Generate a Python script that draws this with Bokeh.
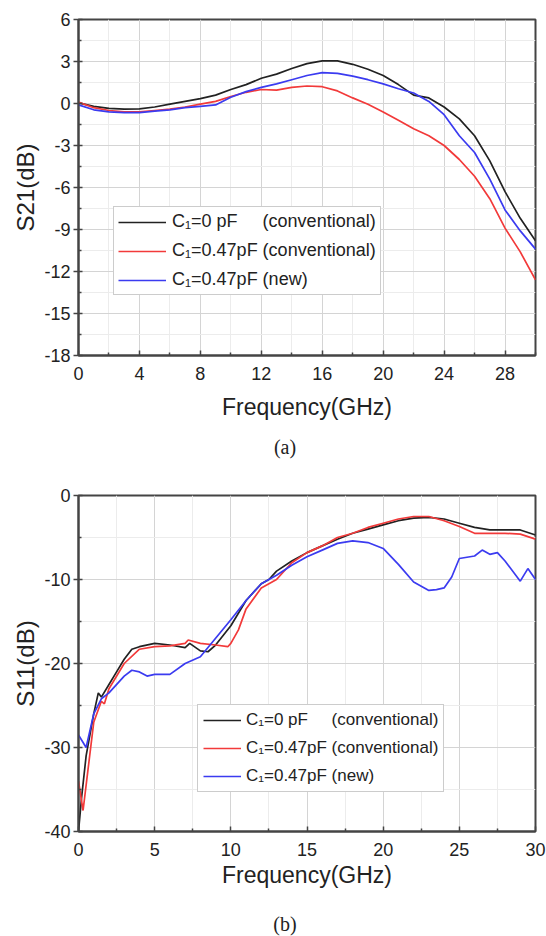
from bokeh.plotting import figure
from bokeh.layouts import column
from bokeh.models import FixedTicker, Legend, LegendItem, Range1d, Div
from bokeh.embed import file_html
from bokeh.resources import INLINE

# ---------------- data: (a) S21 ----------------
freq_a = list(range(31))
s21_c0_conv = [0.05, -0.2, -0.35, -0.4, -0.38, -0.25, -0.05, 0.15, 0.35, 0.6,
               1.0, 1.35, 1.8, 2.1, 2.5, 2.85, 3.05, 3.05, 2.8, 2.45,
               2.0, 1.35, 0.6, 0.4, -0.25, -1.1, -2.3, -4.1, -6.3, -8.2, -9.8]
s21_c047_conv = [0.1, -0.3, -0.5, -0.6, -0.6, -0.5, -0.4, -0.25, -0.05, 0.15,
                 0.5, 0.8, 1.0, 0.95, 1.15, 1.25, 1.2, 0.9, 0.4, -0.05,
                 -0.6, -1.2, -1.8, -2.3, -3.0, -4.0, -5.2, -6.8, -8.9, -10.6, -12.6]
s21_c047_new = [-0.1, -0.45, -0.6, -0.65, -0.65, -0.55, -0.45, -0.3, -0.2, -0.1,
                0.45, 0.85, 1.15, 1.4, 1.7, 2.0, 2.2, 2.15, 1.95, 1.7,
                1.4, 1.05, 0.75, 0.15, -0.8, -2.3, -3.5, -5.4, -7.6, -9.1, -10.4]

# ---------------- data: (b) S11 ----------------
f_b_c0 = [0, 0.2, 0.5, 1.0, 1.3, 1.5, 2, 2.5, 3, 3.5, 4, 5, 6, 7, 7.3, 8, 8.5, 9, 10,
          11, 12, 12.5, 13, 14, 15, 16, 17, 18, 19, 20, 21, 22, 23, 24, 25, 26, 27, 28, 29, 30]
s11_c0_conv = [-40, -36, -31, -26, -23.5, -24, -22.5, -21, -19.5, -18.3, -18, -17.6, -17.8,
               -18.1, -17.6, -18.5, -18.6, -17.8, -15.5, -12.5, -10.5, -10, -9, -7.8, -6.8,
               -6, -5.2, -4.5, -4, -3.5, -3, -2.7, -2.6, -2.8, -3.3, -3.8, -4.1, -4.1, -4.1, -4.7]
f_b_c047 = [0, 0.3, 0.6, 1, 1.5, 1.7, 2, 3, 4, 5, 6, 7, 7.2, 8, 9, 9.8, 10, 10.5, 11,
            12, 13, 14, 15, 16, 17, 18, 19, 20, 21, 22, 23, 24, 25, 26, 27, 28, 29, 30]
s11_c047_conv = [-34, -37.5, -33, -27, -24.5, -24.8, -23, -20, -18.3, -18, -17.9, -17.6, -17.2,
                 -17.6, -17.8, -18, -17.6, -16, -13.5, -11, -10, -8, -6.8, -6, -5, -4.5, -3.8,
                 -3.3, -2.8, -2.5, -2.5, -3, -3.7, -4.5, -4.5, -4.5, -4.6, -5.2]
f_b_new = [0, 0.5, 1, 1.5, 2, 3, 3.5, 4, 4.5, 5, 6, 7, 8, 9, 10, 11, 12, 13, 14, 15, 16,
           17, 18, 19, 20, 21, 22, 23, 23.5, 24, 24.5, 25, 26, 26.5, 27, 27.5, 28, 29, 29.5, 30]
s11_c047_new = [-28.5, -30, -26, -24.2, -23.5, -21.5, -20.8, -21, -21.5, -21.3, -21.3, -20,
                -19.2, -17, -14.8, -12.5, -10.5, -9.5, -8.3, -7.3, -6.5, -5.7, -5.4, -5.6,
                -6.3, -8.2, -10.3, -11.3, -11.2, -11, -9.7, -7.5, -7.2, -6.5, -7, -6.8, -7.8,
                -10.2, -8.7, -10]

# ---------------- ticks ----------------
xticks_a = [0, 4, 8, 12, 16, 20, 24, 28]
xminor_a = [2, 6, 10, 14, 18, 22, 26, 30]
yticks_a = [-18, -15, -12, -9, -6, -3, 0, 3, 6]
yminor_a = [-16.5, -13.5, -10.5, -7.5, -4.5, -1.5, 1.5, 4.5]
xticks_b = [0, 5, 10, 15, 20, 25, 30]
xminor_b = [2.5, 7.5, 12.5, 17.5, 22.5, 27.5]
yticks_b = [-40, -30, -20, -10, 0]
yminor_b = [-35, -25, -15, -5]

labels = ["C\u2081=0 pF" + "\u00a0" * 5 + "(conventional)",
          "C\u2081=0.47pF (conventional)",
          "C\u2081=0.47pF (new)"]
colors = ["#222222", "#f23a3a", "#3b3bf0"]

FONT = "Liberation Sans"


def make_fig(h, xr, yr, xt, xm, yt, ym, ylabel, border, xlabel_standoff):
    p = figure(width=546, height=h, x_range=Range1d(*xr), y_range=Range1d(*yr),
               output_backend="svg", toolbar_location=None,
               min_border_left=border[0], min_border_right=border[1],
               min_border_top=border[2], min_border_bottom=border[3])
    p.background_fill_color = "white"
    p.border_fill_color = "white"
    p.outline_line_color = "#444444"
    p.outline_line_width = 2
    p.xaxis.ticker = FixedTicker(ticks=xt, minor_ticks=xm)
    p.yaxis.ticker = FixedTicker(ticks=yt, minor_ticks=ym)
    p.xaxis.major_label_overrides = {v: str(v) for v in xt}
    p.yaxis.major_label_overrides = {v: str(v) for v in yt}
    for ax in (p.xaxis, p.yaxis):
        ax.axis_line_color = "#444444"
        ax.axis_line_width = 2
        ax.major_tick_line_color = "#444444"
        ax.minor_tick_line_color = "#444444"
        ax.major_tick_line_width = 1.5
        ax.minor_tick_line_width = 1.5
        ax.major_label_text_font = FONT
        ax.major_label_text_font_size = "18px"
        ax.major_label_text_color = "#222222"
        ax.axis_label_text_font = FONT
        ax.axis_label_text_font_style = "normal"
        ax.axis_label_text_color = "#222222"
    p.xaxis.axis_label_text_font_size = "23px"
    p.yaxis.axis_label_text_font_size = "24px"
    p.xaxis.major_tick_in = 5
    p.xaxis.major_tick_out = 0
    p.xaxis.minor_tick_in = 3
    p.xaxis.minor_tick_out = 0
    p.yaxis.major_tick_in = 4
    p.yaxis.major_tick_out = 5
    p.yaxis.minor_tick_in = 3
    p.yaxis.minor_tick_out = 0
    p.xaxis.major_label_standoff = 11
    p.yaxis.major_label_standoff = 3
    p.xaxis.axis_label = "Frequency(GHz)"
    p.xaxis.axis_label_standoff = xlabel_standoff
    p.yaxis.axis_label = ylabel
    p.yaxis.axis_label_standoff = 2
    for g in (p.xgrid, p.ygrid):
        g.grid_line_color = "#d4d4d4"
        g.grid_line_width = 1
        g.minor_grid_line_color = "#ececec"
        g.minor_grid_line_width = 1
    return p


def caption(text, h, lh):
    return Div(text=text, width=546, height=h, margin=0,
               styles={"text-align": "center", "font-family": "Liberation Serif",
                       "font-size": "20px", "line-height": f"{lh}px",
                       "text-indent": "24px",
                       "color": "#222222", "width": "546px"})


pa = make_fig(432, (0, 30), (-18, 6), xticks_a, xminor_a, yticks_a, yminor_a,
              "S21(dB)", (78, 6, 19, 77), 11)
ra = [pa.line(freq_a, s21_c0_conv, line_color=colors[0], line_width=1.7),
      pa.line(freq_a, s21_c047_conv, line_color=colors[1], line_width=1.7),
      pa.line(freq_a, s21_c047_new, line_color=colors[2], line_width=1.7)]

pb = make_fig(447, (0, 30), (-40, 0), xticks_b, xminor_b, yticks_b, yminor_b,
              "S11(dB)", (78, 11, 33, 78), 3)
rb = [pb.line(f_b_c0, s11_c0_conv, line_color=colors[0], line_width=1.7),
      pb.line(f_b_c047, s11_c047_conv, line_color=colors[1], line_width=1.7),
      pb.line(f_b_new, s11_c047_new, line_color=colors[2], line_width=1.7)]


def add_legend(p, rends, loc, fs, gw, pad, standoff):
    leg = Legend(items=[LegendItem(label=l, renderers=[r]) for l, r in zip(labels, rends)],
                 location=loc, label_text_font=FONT, label_text_font_size=fs,
                 label_text_color="#222222", glyph_width=gw, glyph_height=20,
                 label_height=20, spacing=8, padding=pad, margin=0,
                 label_standoff=standoff,
                 border_line_color="#999999", border_line_width=1.5,
                 background_fill_color="white", background_fill_alpha=1.0)
    p.add_layout(leg)


add_legend(pa, ra, (35, 60), "18px", 48, 4, 6)
add_legend(pb, rb, (119, 39), "17px", 38, 5, 5)

layout = column(pa, caption("(a)", 30, 30), pb, caption("(b)", 26, 30), spacing=0)
open("out.html", "w").write(file_html(layout, INLINE))
